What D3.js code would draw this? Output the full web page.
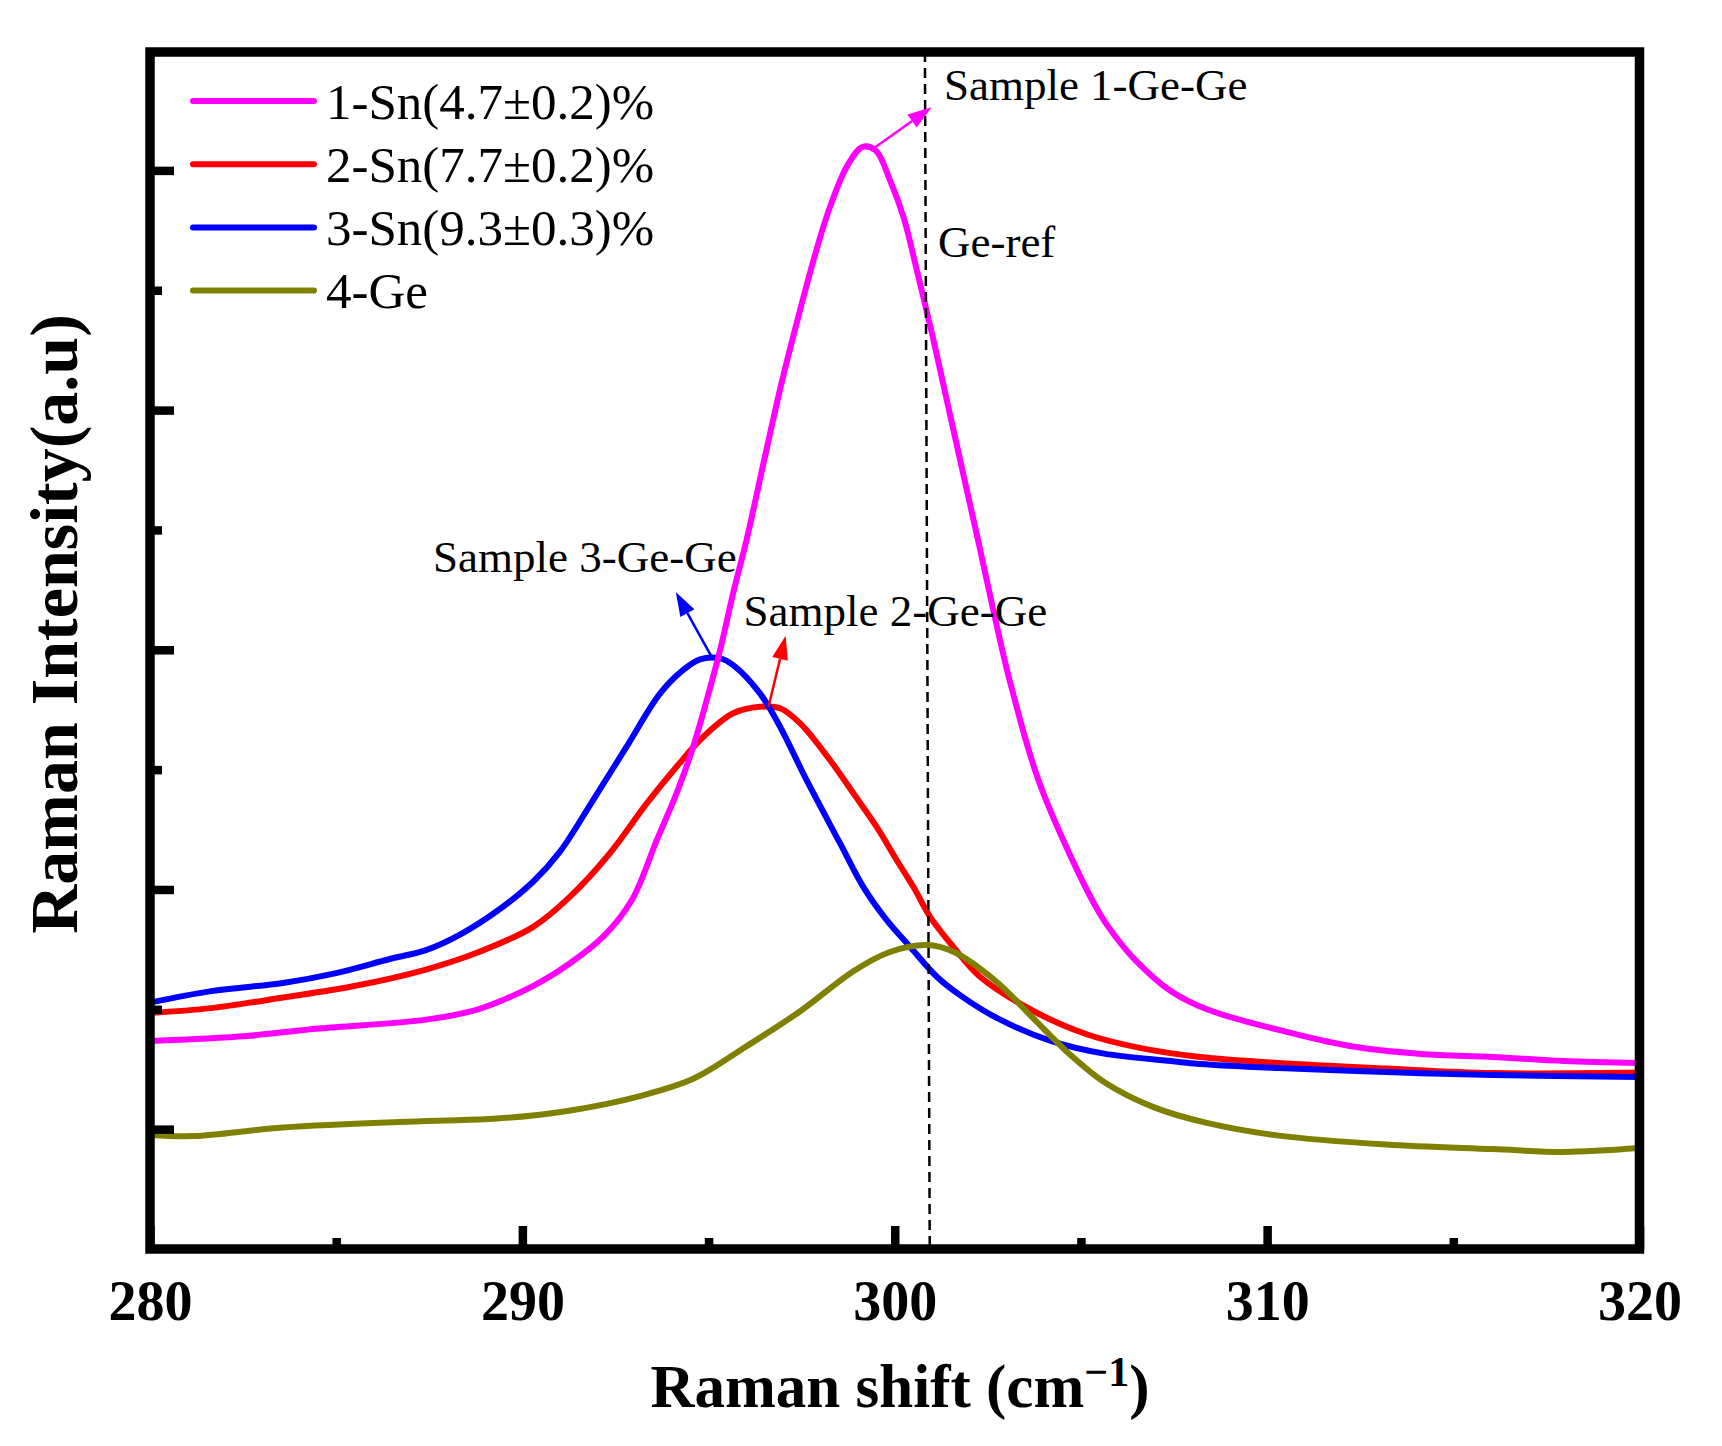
<!DOCTYPE html>
<html>
<head>
<meta charset="utf-8">
<script src="https://cdn.jsdelivr.net/npm/d3@7"></script>
<style>
body { margin: 0; background: #fff; }
text { font-family: "Liberation Serif", "Times New Roman", serif; }
</style>
</head>
<body>
<div id="chart"></div>
<script>
var w = 1722,
h = 1446;

//Data: [Raman shift, intensity]
var sn47 = [[280,868],[282.6,889],[284.54,920],[287.41,957],[288.83,1001],[290.28,1097],[291.25,1189],[292.19,1306],[292.94,1456],[293.61,1706],[294.14,1901],[294.59,2096],[294.95,2290],[295.31,2499],[295.66,2736],[296.02,2958],[296.5,3296],[296.96,3613],[297.43,3901],[297.88,4159],[298.26,4347],[298.72,4518],[299.14,4598],[299.49,4583],[299.87,4460],[300.24,4303],[300.61,4072],[300.97,3840],[301.35,3575],[301.93,3170],[302.29,2920],[302.64,2670],[303.09,2370],[303.85,1960],[304.87,1590],[305.51,1398],[305.91,1307],[306.48,1202],[307.42,1075],[308.38,1000],[310.31,914],[312.22,847],[314.13,814],[316.06,801],[317.97,784],[320,776]];
var sn77 = [[280,985],[281.64,1005],[283.57,1049],[285.48,1097],[287.41,1166],[288.83,1239],[290.28,1343],[291.28,1470],[292.35,1651],[293.34,1859],[294.14,2012],[294.86,2137],[295.66,2235],[296.38,2262],[296.92,2256],[297.46,2193],[298.26,2040],[298.89,1901],[299.51,1762],[300.05,1623],[300.5,1511],[300.95,1386],[301.57,1261],[302.29,1136],[303.71,994],[305.13,897],[306.58,839],[308.2,801],[310.31,776],[313.19,753],[316.06,734],[320,736]];
var sn93 = [[280,1028],[281.64,1076],[283.57,1110],[285.0,1151],[286.44,1210],[287.41,1247],[288.35,1314],[289.32,1410],[290.28,1531],[291.01,1658],[291.9,1873],[292.8,2096],[293.7,2318],[294.32,2416],[294.77,2460],[295.31,2464],[295.66,2436],[296.38,2318],[296.92,2179],[297.63,1957],[298.53,1693],[299.15,1512],[299.78,1373],[300.41,1261],[301.13,1136],[301.78,1056],[302.74,964],[304.19,868],[305.62,815],[307.42,784],[308.2,772],[310.31,755],[313.19,738],[316.06,726],[320,718]];
var ge = [[280,476],[281.18,471],[283.57,507],[287.41,534],[289.32,544],[291.25,577],[293.16,638],[294.6,711],[296.03,847],[297.48,994],[298.9,1160],[299.87,1239],[300.86,1268],[301.59,1239],[302.74,1114],[303.71,964],[304.68,815],[305.62,697],[306.95,592],[308.38,526],[310.31,473],[313.19,436],[316.06,417],[317.97,405],[320,421]];

//Legend titles and colours
var LegendOptions = ['1-Sn(4.7\u00b10.2)%', '2-Sn(7.7\u00b10.2)%', '3-Sn(9.3\u00b10.3)%', '4-Ge'];
var colors = ['#ff00ff', '#ff0000', '#0000ff', '#808000'];
var seriesList = [sn47, sn77, sn93, ge];
var drawOrder = [1, 2, 0, 3];

//Ticks
var xMajor = [280, 290, 300, 310, 320];
var xMinor = [285, 295, 305, 315];
var yMajor = [500, 1500, 2500, 3500, 4500];
var yMinor = [1000, 2000, 3000, 4000];

//Annotations
var geRef = [[300.81, 4994], [300.94, 0]];
var arrows = [
	{from: [299.41, 4589], to: [300.99, 4764], color: '#ff00ff'},
	{from: [295.09, 2468], to: [294.12, 2741], color: '#0000ff'},
	{from: [296.61, 2262], to: [297.07, 2559], color: '#ff0000'}
];
var labels = [
	{text: 'Sample 1-Ge-Ge', x: 301.32, y: 4794},
	{text: 'Ge-ref', x: 301.16, y: 4139},
	{text: 'Sample 3-Ge-Ge', x: 287.6, y: 2826},
	{text: 'Sample 2-Ge-Ge', x: 295.94, y: 2600}
];

var pLeft = 150, pRight = 1639.5, pTop = 52, pBottom = 1249;

var x = d3.scaleLinear().domain([280, 320]).range([pLeft, pRight]);
var y = d3.scaleLinear().domain([0, 4994]).range([pBottom, pTop]);

var svg = d3.select('#chart')
.append('svg')
.attr("width", w)
.attr("height", h)
.style("background", "#fff");

var line = d3.line()
.x(function(d){ return x(d[0]); })
.y(function(d){ return y(d[1]); })
.curve(d3.curveCatmullRom.alpha(0.5));

//Curves
drawOrder.forEach(function(i){
	svg.append("path")
	.datum(seriesList[i])
	.attr("d", line)
	.attr("fill", "none")
	.attr("stroke", colors[i])
	.attr("stroke-width", 6)
	.attr("stroke-linejoin", "round");
});

//Ge reference dashed line
svg.append("path")
.datum(geRef)
.attr("d", d3.line().x(function(d){ return x(d[0]); }).y(function(d){ return y(d[1]); }))
.attr("stroke", "#000")
.attr("stroke-width", 2.5)
.attr("stroke-dasharray", "10,6")
.attr("fill", "none");

//Arrows
arrows.forEach(function(a){
	var x1 = x(a.from[0]), y1 = y(a.from[1]), x2 = x(a.to[0]), y2 = y(a.to[1]);
	var ang = Math.atan2(y2 - y1, x2 - x1);
	var hl = 24, hw = 8;
	var bx = x2 - hl * Math.cos(ang), by = y2 - hl * Math.sin(ang);
	svg.append("line")
	.attr("x1", x1).attr("y1", y1)
	.attr("x2", bx).attr("y2", by)
	.attr("stroke", a.color)
	.attr("stroke-width", 2.5);
	svg.append("polygon")
	.attr("points", [
		[x2, y2],
		[bx + hw * Math.sin(ang), by - hw * Math.cos(ang)],
		[bx - hw * Math.sin(ang), by + hw * Math.cos(ang)]
	].map(function(p){ return p.join(","); }).join(" "))
	.attr("fill", a.color);
});

//Annotation texts
svg.selectAll('text.note')
.data(labels)
.enter()
.append("text")
.attr("class", "note")
.attr("x", function(d){ return x(d.x); })
.attr("y", function(d){ return y(d.y); })
.attr("font-size", "45px")
.attr("fill", "#000")
.text(function(d){ return d.text; });

//Axes (ticks inward)
var gx = svg.append("g").attr("transform", "translate(0," + pBottom + ")");
gx.call(d3.axisBottom(x).tickValues(xMajor).tickSize(-23).tickPadding(0).tickFormat(d3.format("d")));
gx.append("g").call(d3.axisBottom(x).tickValues(xMinor).tickSize(-11).tickFormat(""));
gx.selectAll(".domain").remove();
gx.selectAll("line").attr("stroke", "#000").attr("stroke-width", 8.5);
gx.selectAll("text")
.attr("y", 71)
.attr("dy", null)
.attr("font-size", "56px")
.attr("font-weight", "bold")
.attr("font-family", "Liberation Serif")
.attr("fill", "#000");

var gy = svg.append("g").attr("transform", "translate(" + pLeft + ",0)");
gy.call(d3.axisLeft(y).tickValues(yMajor).tickSize(-24).tickFormat(""));
gy.append("g").call(d3.axisLeft(y).tickValues(yMinor).tickSize(-12).tickFormat(""));
gy.selectAll(".domain").remove();
gy.selectAll("line").attr("stroke", "#000").attr("stroke-width", 8.5);

//Frame
svg.append("rect")
.attr("x", pLeft)
.attr("y", pTop)
.attr("width", pRight - pLeft)
.attr("height", pBottom - pTop)
.attr("fill", "none")
.attr("stroke", "#000")
.attr("stroke-width", 9.5);

//Axis titles
var xt = svg.append("text")
.attr("x", 900)
.attr("y", 1407)
.attr("text-anchor", "middle")
.attr("font-size", "61px")
.attr("font-weight", "bold")
.attr("fill", "#000");
xt.append("tspan").text("Raman shift (cm");
xt.append("tspan").attr("dy", -21).attr("font-size", "42px").text("\u22121");
xt.append("tspan").attr("dy", 21).text(")");

svg.append("text")
.attr("transform", "translate(77,624) rotate(-90)")
.attr("text-anchor", "middle")
.attr("font-size", "68px")
.attr("font-weight", "bold")
.attr("fill", "#000")
.text("Raman Intensity(a.u)");

//Legend
var legend = svg.append("g")
.attr("class", "legend");
	legend.selectAll('line')
	.data(LegendOptions)
	.enter()
	.append("line")
	.attr("x1", 193)
	.attr("x2", 314)
	.attr("y1", function(d, i){ return 101 + i * 63.2; })
	.attr("y2", function(d, i){ return 101 + i * 63.2; })
	.attr("stroke", function(d, i){ return colors[i]; })
	.attr("stroke-width", 6)
	.attr("stroke-linecap", "round");
	legend.selectAll('text')
	.data(LegendOptions)
	.enter()
	.append("text")
	.attr("x", 326)
	.attr("y", function(d, i){ return 118.5 + i * 63.2; })
	.attr("font-size", "51px")
	.attr("fill", "#000")
	.text(function(d) { return d; });
</script>
</body>
</html>
